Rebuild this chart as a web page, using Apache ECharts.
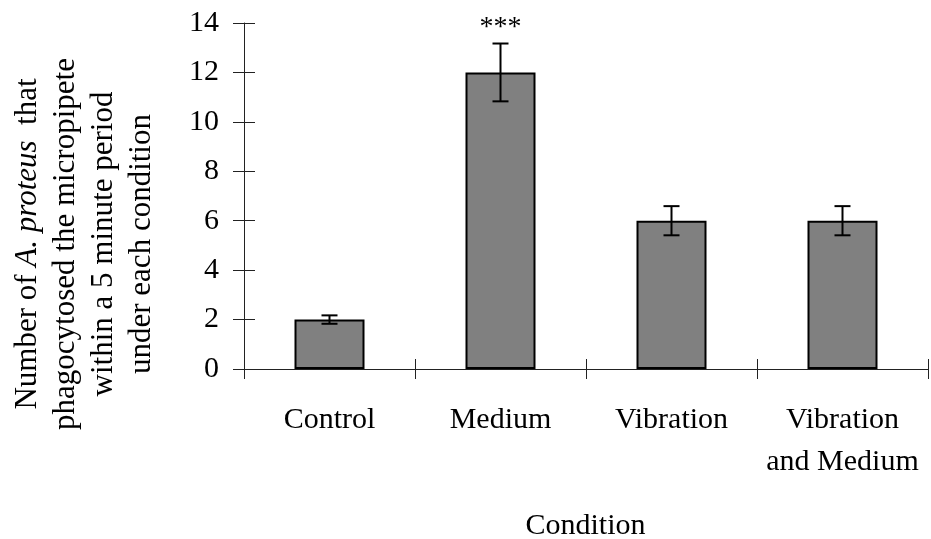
<!DOCTYPE html>
<html>
<head>
<meta charset="utf-8">
<script src="https://cdn.jsdelivr.net/npm/echarts@6/dist/echarts.min.js"></script>
<style>
html,body{margin:0;padding:0;background:#fff;}
#chart{width:931px;height:539px;}
</style>
</head>
<body>
<div id="chart"></div>
<script>
const categories = ['Control', 'Medium', 'Vibration', 'Vibration\nand Medium'];
const means = [2, 12, 6, 6];
const errors = [0.17, 1.17, 0.59, 0.59];
const annotations = ['', '***', '', ''];
const yTicks = [0, 2, 4, 6, 8, 10, 12, 14];
const yTitleLines = ['Number of {i|A. proteus}  that', 'phagocytosed the micropipete', 'within a 5 minute period', 'under each condition'];
const xTitle = 'Condition';

const FONT = '"Liberation Serif", "Times New Roman", serif';
const chart = echarts.init(document.getElementById('chart'));

const errData = means.map((m, i) => [i, m - errors[i], m + errors[i], annotations[i]]);

const titleX = [28, 66, 104, 142];
const graphics = yTitleLines.map((t, i) => ({
  type: 'text',
  x: titleX[i],
  y: 244,
  rotation: Math.PI / 2,
  style: {
    text: t,
    font: '31px ' + FONT,
    fill: '#000',
    align: 'center',
    verticalAlign: 'middle',
    rich: { i: { fontStyle: 'italic', fontSize: 31, fontFamily: FONT } }
  }
}));
graphics.push({
  type: 'text',
  x: 585.5,
  y: 526,
  style: { text: xTitle, font: '30px ' + FONT, fill: '#000', align: 'center', verticalAlign: 'middle' }
});

const axisLineStyle = { color: '#222', width: 1 };

chart.setOption({
  animation: false,
  backgroundColor: '#fff',
  grid: { left: 244, right: 3, top: 23, bottom: 170, containLabel: false },
  graphic: graphics,
  xAxis: [
    {
      type: 'category', data: categories, position: 'bottom',
      axisLine: { show: true, lineStyle: axisLineStyle },
      axisTick: { show: true, inside: false, length: 10, interval: 0, lineStyle: axisLineStyle },
      axisLabel: { interval: 0, margin: 30, fontSize: 30, fontFamily: FONT, color: '#000', lineHeight: 42 },
      splitLine: { show: false }
    },
    {
      type: 'category', data: categories, position: 'bottom', gridIndex: 0,
      axisLine: { show: false },
      axisTick: { show: true, inside: true, length: 10, interval: 0, lineStyle: axisLineStyle },
      axisLabel: { show: false },
      splitLine: { show: false }
    }
  ],
  yAxis: [
    {
      type: 'value', min: yTicks[0], max: yTicks[yTicks.length - 1], interval: 2,
      axisLine: { show: true, lineStyle: axisLineStyle },
      axisTick: { show: true, inside: false, length: 11, lineStyle: axisLineStyle },
      axisLabel: { margin: 25, fontSize: 30, fontFamily: FONT, color: '#000' },
      splitLine: { show: false }
    },
    {
      type: 'value', min: yTicks[0], max: yTicks[yTicks.length - 1], interval: 2, position: 'left',
      axisLine: { show: false },
      axisTick: { show: true, inside: true, length: 11, lineStyle: axisLineStyle },
      axisLabel: { show: false },
      splitLine: { show: false }
    }
  ],
  series: [
    {
      type: 'bar', data: means, barWidth: 70,
      itemStyle: { color: '#808080', borderColor: '#000', borderWidth: 2 }
    },
    {
      type: 'custom', data: errData, clip: false, z: 10,
      encode: { x: 0, y: [1, 2] },
      renderItem: function (params, api) {
        const i = api.value(0);
        const lo = api.coord([i, api.value(1)]);
        const hi = api.coord([i, api.value(2)]);
        const cap = 8;
        const st = { stroke: '#000', lineWidth: 2 };
        const children = [
          { type: 'line', shape: { x1: hi[0], y1: hi[1], x2: lo[0], y2: lo[1] }, style: st },
          { type: 'line', shape: { x1: hi[0] - cap, y1: hi[1], x2: hi[0] + cap, y2: hi[1] }, style: st },
          { type: 'line', shape: { x1: lo[0] - cap, y1: lo[1], x2: lo[0] + cap, y2: lo[1] }, style: st }
        ];
        const ann = annotations[params.dataIndex];
        if (ann) {
          children.push({
            type: 'text', x: hi[0], y: hi[1] - 16,
            style: { text: ann, font: '28px ' + FONT, fill: '#000', align: 'center', verticalAlign: 'middle' }
          });
        }
        return { type: 'group', children: children };
      }
    }
  ]
});
</script>
</body>
</html>
